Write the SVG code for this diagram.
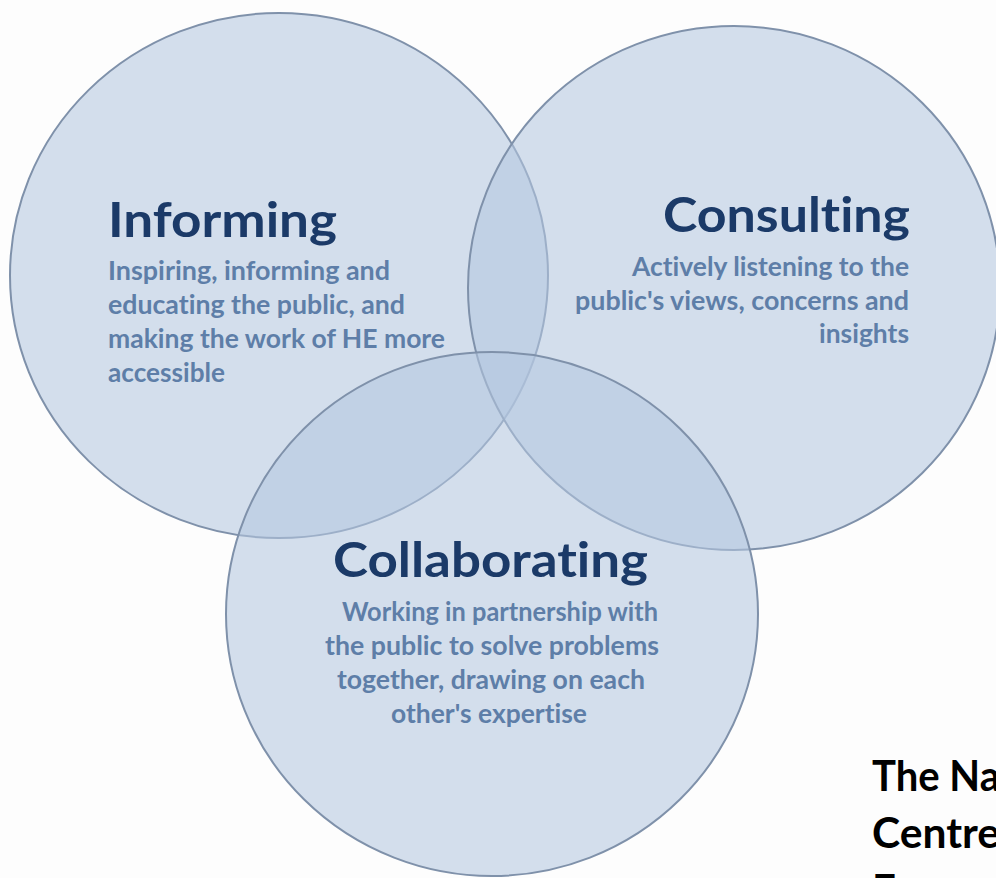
<svg xmlns="http://www.w3.org/2000/svg" width="996" height="878" viewBox="0 0 996 878">
  <style>
    text { font-variant-ligatures: none; font-feature-settings: "liga" 0, "clig" 0; }
    .circle { fill: rgb(180,199,224); fill-opacity: 0.57; stroke: #7f91aa; stroke-width: 2; }
    .title { font-family: Lato, "Liberation Sans", sans-serif; font-weight: bold; font-size: 48px; fill: #1b3a68; }
    .body { font-family: Lato, "Liberation Sans", sans-serif; font-weight: bold; font-size: 26px; fill: #5e7ea8; }
    .note { font-family: Lato, "Liberation Sans", sans-serif; font-weight: bold; font-size: 42px; fill: #000000; }
  </style>
  <rect x="0" y="0" width="996" height="878" fill="#fdfdfd"/>

  <g id="node-informing">
    <ellipse class="circle" cx="279" cy="275.5" rx="269" ry="262.5"/>
    <text class="title" x="108" y="237" textLength="229" lengthAdjust="spacingAndGlyphs">Informing</text>
    <text class="body" x="108" y="280" textLength="282" lengthAdjust="spacingAndGlyphs">Inspiring, informing and</text>
    <text class="body" x="108" y="314" textLength="297" lengthAdjust="spacingAndGlyphs">educating the public, and</text>
    <text class="body" x="108" y="348" textLength="337" lengthAdjust="spacingAndGlyphs">making the work of HE more</text>
    <text class="body" x="108" y="382" textLength="117" lengthAdjust="spacingAndGlyphs">accessible</text>
  </g>

  <g id="node-consulting">
    <ellipse class="circle" cx="734" cy="288" rx="266" ry="262"/>
    <text class="title" x="910" y="232" text-anchor="end" textLength="247" lengthAdjust="spacingAndGlyphs">Consulting</text>
    <text class="body" x="909" y="276" text-anchor="end" textLength="277" lengthAdjust="spacingAndGlyphs">Actively listening to the</text>
    <text class="body" x="909" y="310" text-anchor="end" textLength="334" lengthAdjust="spacingAndGlyphs">public's views, concerns and</text>
    <text class="body" x="909" y="343" text-anchor="end" textLength="90" lengthAdjust="spacingAndGlyphs">insights</text>
  </g>

  <g id="node-collaborating">
    <ellipse class="circle" cx="492" cy="614" rx="266" ry="262"/>
    <text class="title" x="333" y="577" textLength="315" lengthAdjust="spacingAndGlyphs">Collaborating</text>
    <text class="body" x="342" y="621" textLength="316" lengthAdjust="spacingAndGlyphs">Working in partnership with</text>
    <text class="body" x="325" y="655" textLength="334" lengthAdjust="spacingAndGlyphs">the public to solve problems</text>
    <text class="body" x="337" y="689" textLength="308" lengthAdjust="spacingAndGlyphs">together, drawing on each</text>
    <text class="body" x="391" y="723" textLength="196" lengthAdjust="spacingAndGlyphs">other's expertise</text>
  </g>

  <g id="connectors"/>

  <g id="caption">
    <text class="note" x="872" y="791" textLength="128" lengthAdjust="spacingAndGlyphs">The Na</text>
    <text class="note" x="872" y="848" textLength="128" lengthAdjust="spacingAndGlyphs">Centre</text>
    <text class="note" x="872" y="905">E</text>
  </g>
</svg>
